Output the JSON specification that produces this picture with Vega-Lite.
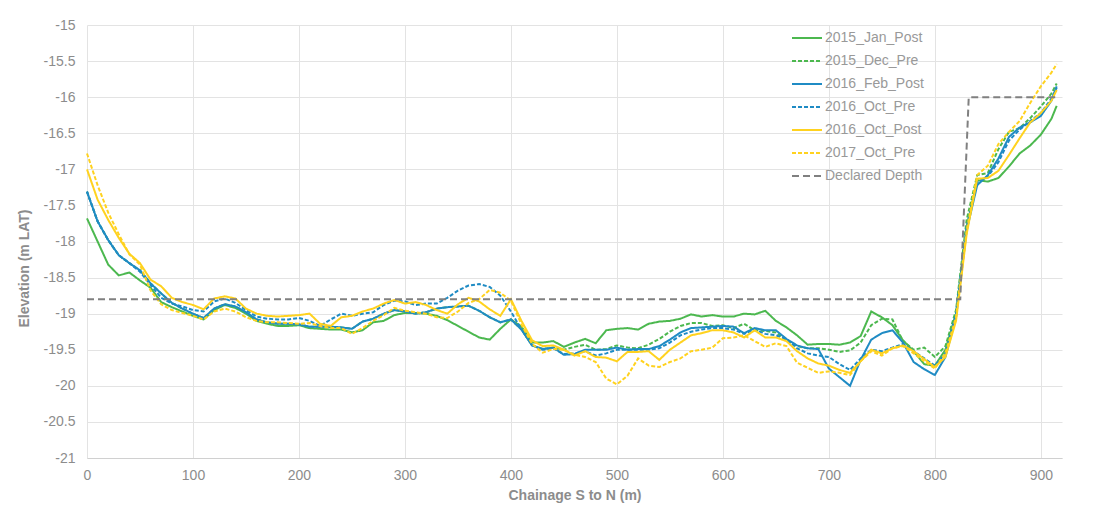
{
  "$schema": "https://vega.github.io/schema/vega-lite/v6.json",
  "width": 975,
  "height": 433,
  "autosize": {"type": "none"},
  "padding": {"left": 87, "top": 25, "right": 42, "bottom": 51},
  "background": "white",
  "config": {
    "view": {"stroke": null},
    "font": "Liberation Sans",
    "axis": {
      "labelFont": "Liberation Sans",
      "labelFontSize": 14,
      "labelColor": "#8c8c8c",
      "titleFont": "Liberation Sans",
      "titleFontSize": 14,
      "titleFontWeight": "bold",
      "titleColor": "#8c8c8c",
      "gridColor": "#e3e3e3",
      "gridWidth": 1,
      "ticks": false,
      "domain": false,
      "labelFlush": false
    },
    "legend": {
      "orient": "none",
      "legendX": 704,
      "legendY": -3,
      "padding": 0,
      "symbolType": "stroke",
      "symbolSize": 900,
      "symbolStrokeWidth": 2,
      "labelFont": "Liberation Sans",
      "labelFontSize": 14,
      "labelColor": "#999999",
      "labelOffset": 2,
      "rowPadding": -9.2
    }
  },
  "encoding": {
    "x": {
      "field": "x",
      "type": "quantitative",
      "scale": {"domain": [0, 920], "nice": false, "zero": false},
      "axis": {
        "values": [0, 100, 200, 300, 400, 500, 600, 700, 800, 900],
        "title": "Chainage S to N (m)",
        "domain": true,
        "domainColor": "#d0d0d0",
        "labelPadding": 10,
        "titlePadding": 6
      }
    },
    "y": {
      "field": "elev",
      "type": "quantitative",
      "scale": {"domain": [-21, -15], "nice": false, "zero": false},
      "axis": {
        "values": [-21, -20.5, -20, -19.5, -19, -18.5, -18, -17.5, -17, -16.5, -16, -15.5, -15],
        "labelExpr": "toString(datum.value)",
        "title": "Elevation (m LAT)",
        "labelPadding": 12,
        "titleX": -56,
        "titleY": 243
      }
    },
    "color": {
      "field": "series",
      "type": "nominal",
      "scale": {
        "domain": ["2015_Jan_Post", "2015_Dec_Pre", "2016_Feb_Post", "2016_Oct_Pre", "2016_Oct_Post", "2017_Oct_Pre", "Declared Depth"],
        "range": ["#4cb84f", "#4cb84f", "#1f8bc4", "#1f8bc4", "#ffd21f", "#ffd21f", "#808080"]
      },
      "legend": {"title": null}
    },
    "strokeDash": {
      "field": "series",
      "type": "nominal",
      "scale": {
        "domain": ["2015_Jan_Post", "2015_Dec_Pre", "2016_Feb_Post", "2016_Oct_Pre", "2016_Oct_Post", "2017_Oct_Pre", "Declared Depth"],
        "range": [[1, 0], [4, 2], [1, 0], [4, 2], [1, 0], [4, 2], [7, 4]]
      },
      "legend": {"title": null}
    }
  },
  "layer": [
    {
      "data": {
        "values": [
          {"x": 0, "2015_Jan_Post": -17.68, "2015_Dec_Pre": -17.31, "2016_Feb_Post": -17.31, "2016_Oct_Pre": -17.31, "2016_Oct_Post": -17.0, "2017_Oct_Pre": -16.78},
          {"x": 10, "2015_Jan_Post": -18.0, "2015_Dec_Pre": -17.72, "2016_Feb_Post": -17.72, "2016_Oct_Pre": -17.72, "2016_Oct_Post": -17.42, "2017_Oct_Pre": -17.22},
          {"x": 20, "2015_Jan_Post": -18.32, "2015_Dec_Pre": -17.98, "2016_Feb_Post": -17.98, "2016_Oct_Pre": -17.98, "2016_Oct_Post": -17.7, "2017_Oct_Pre": -17.6},
          {"x": 30, "2015_Jan_Post": -18.47, "2015_Dec_Pre": -18.19, "2016_Feb_Post": -18.19, "2016_Oct_Pre": -18.19, "2016_Oct_Post": -17.95, "2017_Oct_Pre": -17.9},
          {"x": 40, "2015_Jan_Post": -18.43, "2015_Dec_Pre": -18.3, "2016_Feb_Post": -18.3, "2016_Oct_Pre": -18.3, "2016_Oct_Post": -18.17, "2017_Oct_Pre": -18.18},
          {"x": 50, "2015_Jan_Post": -18.54, "2015_Dec_Pre": -18.4, "2016_Feb_Post": -18.4, "2016_Oct_Pre": -18.42, "2016_Oct_Post": -18.3, "2017_Oct_Pre": -18.32},
          {"x": 60, "2015_Jan_Post": -18.64, "2015_Dec_Pre": -18.58, "2016_Feb_Post": -18.58, "2016_Oct_Pre": -18.6, "2016_Oct_Post": -18.53, "2017_Oct_Pre": -18.68},
          {"x": 70, "2015_Jan_Post": -18.84, "2015_Dec_Pre": -18.72, "2016_Feb_Post": -18.72, "2016_Oct_Pre": -18.78, "2016_Oct_Post": -18.62, "2017_Oct_Pre": -18.87},
          {"x": 80, "2015_Jan_Post": -18.91, "2015_Dec_Pre": -18.85, "2016_Feb_Post": -18.85, "2016_Oct_Pre": -18.86, "2016_Oct_Post": -18.78, "2017_Oct_Pre": -18.95},
          {"x": 90, "2015_Jan_Post": -18.97, "2015_Dec_Pre": -18.93, "2016_Feb_Post": -18.93, "2016_Oct_Pre": -18.9, "2016_Oct_Post": -18.84, "2017_Oct_Pre": -18.99},
          {"x": 100, "2015_Jan_Post": -19.03, "2015_Dec_Pre": -19.0, "2016_Feb_Post": -19.0, "2016_Oct_Pre": -18.95, "2016_Oct_Post": -18.88, "2017_Oct_Pre": -19.03},
          {"x": 110, "2015_Jan_Post": -19.08, "2015_Dec_Pre": -19.06, "2016_Feb_Post": -19.06, "2016_Oct_Pre": -18.97, "2016_Oct_Post": -18.94, "2017_Oct_Pre": -19.08},
          {"x": 120, "2015_Jan_Post": -18.95, "2015_Dec_Pre": -18.93, "2016_Feb_Post": -18.93, "2016_Oct_Pre": -18.83, "2016_Oct_Post": -18.79, "2017_Oct_Pre": -18.97},
          {"x": 130, "2015_Jan_Post": -18.88, "2015_Dec_Pre": -18.87, "2016_Feb_Post": -18.87, "2016_Oct_Pre": -18.79, "2016_Oct_Post": -18.76, "2017_Oct_Pre": -18.93},
          {"x": 140, "2015_Jan_Post": -18.92, "2015_Dec_Pre": -18.9, "2016_Feb_Post": -18.9, "2016_Oct_Pre": -18.85, "2016_Oct_Post": -18.79, "2017_Oct_Pre": -18.97},
          {"x": 150, "2015_Jan_Post": -19.0, "2015_Dec_Pre": -18.98, "2016_Feb_Post": -18.98, "2016_Oct_Pre": -18.95, "2016_Oct_Post": -18.93, "2017_Oct_Pre": -19.05},
          {"x": 160, "2015_Jan_Post": -19.1, "2015_Dec_Pre": -19.08, "2016_Feb_Post": -19.08, "2016_Oct_Pre": -19.04, "2016_Oct_Post": -19.0, "2017_Oct_Pre": -19.1},
          {"x": 170, "2015_Jan_Post": -19.14, "2015_Dec_Pre": -19.12, "2016_Feb_Post": -19.12, "2016_Oct_Pre": -19.07, "2016_Oct_Post": -19.03, "2017_Oct_Pre": -19.12},
          {"x": 180, "2015_Jan_Post": -19.17, "2015_Dec_Pre": -19.14, "2016_Feb_Post": -19.14, "2016_Oct_Pre": -19.08, "2016_Oct_Post": -19.04, "2017_Oct_Pre": -19.12},
          {"x": 190, "2015_Jan_Post": -19.17, "2015_Dec_Pre": -19.14, "2016_Feb_Post": -19.14, "2016_Oct_Pre": -19.08, "2016_Oct_Post": -19.03, "2017_Oct_Pre": -19.13},
          {"x": 200, "2015_Jan_Post": -19.16, "2015_Dec_Pre": -19.15, "2016_Feb_Post": -19.15, "2016_Oct_Pre": -19.06, "2016_Oct_Post": -19.02, "2017_Oct_Pre": -19.14},
          {"x": 210, "2015_Jan_Post": -19.2, "2015_Dec_Pre": -19.18, "2016_Feb_Post": -19.18, "2016_Oct_Pre": -19.1, "2016_Oct_Post": -19.0, "2017_Oct_Pre": -19.13},
          {"x": 220, "2015_Jan_Post": -19.21, "2015_Dec_Pre": -19.18, "2016_Feb_Post": -19.18, "2016_Oct_Pre": -19.17, "2016_Oct_Post": -19.14, "2017_Oct_Pre": -19.17},
          {"x": 230, "2015_Jan_Post": -19.22, "2015_Dec_Pre": -19.18, "2016_Feb_Post": -19.18, "2016_Oct_Pre": -19.08, "2016_Oct_Post": -19.17, "2017_Oct_Pre": -19.2},
          {"x": 240, "2015_Jan_Post": -19.22, "2015_Dec_Pre": -19.19, "2016_Feb_Post": -19.19, "2016_Oct_Pre": -19.0, "2016_Oct_Post": -19.05, "2017_Oct_Pre": -19.2},
          {"x": 250, "2015_Jan_Post": -19.26, "2015_Dec_Pre": -19.21, "2016_Feb_Post": -19.21, "2016_Oct_Pre": -19.03, "2016_Oct_Post": -19.03, "2017_Oct_Pre": -19.28},
          {"x": 260, "2015_Jan_Post": -19.23, "2015_Dec_Pre": -19.11, "2016_Feb_Post": -19.11, "2016_Oct_Pre": -19.0, "2016_Oct_Post": -18.97, "2017_Oct_Pre": -19.2},
          {"x": 270, "2015_Jan_Post": -19.12, "2015_Dec_Pre": -19.07, "2016_Feb_Post": -19.07, "2016_Oct_Pre": -18.98, "2016_Oct_Post": -18.93, "2017_Oct_Pre": -19.1},
          {"x": 280, "2015_Jan_Post": -19.1, "2015_Dec_Pre": -19.0, "2016_Feb_Post": -19.0, "2016_Oct_Pre": -18.88, "2016_Oct_Post": -18.86, "2017_Oct_Pre": -19.02},
          {"x": 290, "2015_Jan_Post": -19.02, "2015_Dec_Pre": -18.95, "2016_Feb_Post": -18.95, "2016_Oct_Pre": -18.82, "2016_Oct_Post": -18.81, "2017_Oct_Pre": -18.92},
          {"x": 300, "2015_Jan_Post": -18.99, "2015_Dec_Pre": -18.97, "2016_Feb_Post": -18.97, "2016_Oct_Pre": -18.83, "2016_Oct_Post": -18.86, "2017_Oct_Pre": -18.96},
          {"x": 310, "2015_Jan_Post": -18.99, "2015_Dec_Pre": -19.0, "2016_Feb_Post": -19.0, "2016_Oct_Pre": -18.88, "2016_Oct_Post": -18.84, "2017_Oct_Pre": -18.98},
          {"x": 320, "2015_Jan_Post": -19.0, "2015_Dec_Pre": -18.98, "2016_Feb_Post": -18.98, "2016_Oct_Pre": -18.86, "2016_Oct_Post": -18.88, "2017_Oct_Pre": -19.0},
          {"x": 330, "2015_Jan_Post": -19.03, "2015_Dec_Pre": -18.93, "2016_Feb_Post": -18.93, "2016_Oct_Pre": -18.86, "2016_Oct_Post": -18.95, "2017_Oct_Pre": -19.05},
          {"x": 340, "2015_Jan_Post": -19.09, "2015_Dec_Pre": -18.91, "2016_Feb_Post": -18.91, "2016_Oct_Pre": -18.78, "2016_Oct_Post": -19.0, "2017_Oct_Pre": -19.06},
          {"x": 350, "2015_Jan_Post": -19.17, "2015_Dec_Pre": -18.9, "2016_Feb_Post": -18.9, "2016_Oct_Pre": -18.68, "2016_Oct_Post": -18.87, "2017_Oct_Pre": -18.97},
          {"x": 360, "2015_Jan_Post": -19.25, "2015_Dec_Pre": -18.89, "2016_Feb_Post": -18.89, "2016_Oct_Pre": -18.61, "2016_Oct_Post": -18.78, "2017_Oct_Pre": -18.85},
          {"x": 370, "2015_Jan_Post": -19.33, "2015_Dec_Pre": -18.96, "2016_Feb_Post": -18.96, "2016_Oct_Pre": -18.59, "2016_Oct_Post": -18.83, "2017_Oct_Pre": -18.8},
          {"x": 380, "2015_Jan_Post": -19.36, "2015_Dec_Pre": -19.05, "2016_Feb_Post": -19.05, "2016_Oct_Pre": -18.63, "2016_Oct_Post": -18.94, "2017_Oct_Pre": -18.67},
          {"x": 390, "2015_Jan_Post": -19.21, "2015_Dec_Pre": -19.12, "2016_Feb_Post": -19.12, "2016_Oct_Pre": -18.75, "2016_Oct_Post": -19.03, "2017_Oct_Pre": -18.71},
          {"x": 400, "2015_Jan_Post": -19.08, "2015_Dec_Pre": -19.08, "2016_Feb_Post": -19.08, "2016_Oct_Pre": -18.97, "2016_Oct_Post": -18.8, "2017_Oct_Pre": -18.82},
          {"x": 410, "2015_Jan_Post": -19.18, "2015_Dec_Pre": -19.22, "2016_Feb_Post": -19.22, "2016_Oct_Pre": -19.22, "2016_Oct_Post": -19.1, "2017_Oct_Pre": -19.15},
          {"x": 420, "2015_Jan_Post": -19.4, "2015_Dec_Pre": -19.44, "2016_Feb_Post": -19.44, "2016_Oct_Pre": -19.44, "2016_Oct_Post": -19.37, "2017_Oct_Pre": -19.42},
          {"x": 430, "2015_Jan_Post": -19.4, "2015_Dec_Pre": -19.49, "2016_Feb_Post": -19.49, "2016_Oct_Pre": -19.5, "2016_Oct_Post": -19.45, "2017_Oct_Pre": -19.54},
          {"x": 440, "2015_Jan_Post": -19.38, "2015_Dec_Pre": -19.47, "2016_Feb_Post": -19.47, "2016_Oct_Pre": -19.48, "2016_Oct_Post": -19.44, "2017_Oct_Pre": -19.49},
          {"x": 450, "2015_Jan_Post": -19.46, "2015_Dec_Pre": -19.5, "2016_Feb_Post": -19.57, "2016_Oct_Pre": -19.56, "2016_Oct_Post": -19.5, "2017_Oct_Pre": -19.5},
          {"x": 460, "2015_Jan_Post": -19.4, "2015_Dec_Pre": -19.46, "2016_Feb_Post": -19.56, "2016_Oct_Pre": -19.55, "2016_Oct_Post": -19.58, "2017_Oct_Pre": -19.57},
          {"x": 470, "2015_Jan_Post": -19.35, "2015_Dec_Pre": -19.43, "2016_Feb_Post": -19.5, "2016_Oct_Pre": -19.52, "2016_Oct_Post": -19.52, "2017_Oct_Pre": -19.6},
          {"x": 480, "2015_Jan_Post": -19.41, "2015_Dec_Pre": -19.5, "2016_Feb_Post": -19.5, "2016_Oct_Pre": -19.58, "2016_Oct_Post": -19.6, "2017_Oct_Pre": -19.67},
          {"x": 490, "2015_Jan_Post": -19.23, "2015_Dec_Pre": -19.49, "2016_Feb_Post": -19.5, "2016_Oct_Pre": -19.55, "2016_Oct_Post": -19.61, "2017_Oct_Pre": -19.9},
          {"x": 500, "2015_Jan_Post": -19.21, "2015_Dec_Pre": -19.44, "2016_Feb_Post": -19.47, "2016_Oct_Pre": -19.5, "2016_Oct_Post": -19.66, "2017_Oct_Pre": -19.98},
          {"x": 510, "2015_Jan_Post": -19.2, "2015_Dec_Pre": -19.47, "2016_Feb_Post": -19.5, "2016_Oct_Pre": -19.5, "2016_Oct_Post": -19.53, "2017_Oct_Pre": -19.86},
          {"x": 520, "2015_Jan_Post": -19.22, "2015_Dec_Pre": -19.48, "2016_Feb_Post": -19.49, "2016_Oct_Pre": -19.5, "2016_Oct_Post": -19.53, "2017_Oct_Pre": -19.62},
          {"x": 530, "2015_Jan_Post": -19.14, "2015_Dec_Pre": -19.43, "2016_Feb_Post": -19.49, "2016_Oct_Pre": -19.5, "2016_Oct_Post": -19.52, "2017_Oct_Pre": -19.72},
          {"x": 540, "2015_Jan_Post": -19.11, "2015_Dec_Pre": -19.35, "2016_Feb_Post": -19.45, "2016_Oct_Pre": -19.48, "2016_Oct_Post": -19.64, "2017_Oct_Pre": -19.74},
          {"x": 550, "2015_Jan_Post": -19.1, "2015_Dec_Pre": -19.25, "2016_Feb_Post": -19.36, "2016_Oct_Pre": -19.4, "2016_Oct_Post": -19.5, "2017_Oct_Pre": -19.67},
          {"x": 560, "2015_Jan_Post": -19.07, "2015_Dec_Pre": -19.17, "2016_Feb_Post": -19.26, "2016_Oct_Pre": -19.3, "2016_Oct_Post": -19.4, "2017_Oct_Pre": -19.62},
          {"x": 570, "2015_Jan_Post": -19.01, "2015_Dec_Pre": -19.13, "2016_Feb_Post": -19.2, "2016_Oct_Pre": -19.25, "2016_Oct_Post": -19.3, "2017_Oct_Pre": -19.52},
          {"x": 580, "2015_Jan_Post": -19.04, "2015_Dec_Pre": -19.13, "2016_Feb_Post": -19.19, "2016_Oct_Pre": -19.22, "2016_Oct_Post": -19.27, "2017_Oct_Pre": -19.5},
          {"x": 590, "2015_Jan_Post": -19.02, "2015_Dec_Pre": -19.17, "2016_Feb_Post": -19.18, "2016_Oct_Pre": -19.2, "2016_Oct_Post": -19.23, "2017_Oct_Pre": -19.47},
          {"x": 600, "2015_Jan_Post": -19.04, "2015_Dec_Pre": -19.16, "2016_Feb_Post": -19.17, "2016_Oct_Pre": -19.2, "2016_Oct_Post": -19.23, "2017_Oct_Pre": -19.34},
          {"x": 610, "2015_Jan_Post": -19.04, "2015_Dec_Pre": -19.2, "2016_Feb_Post": -19.18, "2016_Oct_Pre": -19.22, "2016_Oct_Post": -19.26, "2017_Oct_Pre": -19.33},
          {"x": 620, "2015_Jan_Post": -19.0, "2015_Dec_Pre": -19.14, "2016_Feb_Post": -19.27, "2016_Oct_Pre": -19.28, "2016_Oct_Post": -19.33, "2017_Oct_Pre": -19.3},
          {"x": 630, "2015_Jan_Post": -19.01, "2015_Dec_Pre": -19.23, "2016_Feb_Post": -19.2, "2016_Oct_Pre": -19.22, "2016_Oct_Post": -19.23, "2017_Oct_Pre": -19.38},
          {"x": 640, "2015_Jan_Post": -18.96, "2015_Dec_Pre": -19.24, "2016_Feb_Post": -19.23, "2016_Oct_Pre": -19.28, "2016_Oct_Post": -19.33, "2017_Oct_Pre": -19.46},
          {"x": 650, "2015_Jan_Post": -19.1, "2015_Dec_Pre": -19.26, "2016_Feb_Post": -19.23, "2016_Oct_Pre": -19.3, "2016_Oct_Post": -19.33, "2017_Oct_Pre": -19.41},
          {"x": 660, "2015_Jan_Post": -19.19, "2015_Dec_Pre": -19.37, "2016_Feb_Post": -19.35, "2016_Oct_Pre": -19.35, "2016_Oct_Post": -19.38, "2017_Oct_Pre": -19.45},
          {"x": 670, "2015_Jan_Post": -19.3, "2015_Dec_Pre": -19.45, "2016_Feb_Post": -19.44, "2016_Oct_Pre": -19.48, "2016_Oct_Post": -19.52, "2017_Oct_Pre": -19.68},
          {"x": 680, "2015_Jan_Post": -19.43, "2015_Dec_Pre": -19.48, "2016_Feb_Post": -19.48, "2016_Oct_Pre": -19.55, "2016_Oct_Post": -19.62, "2017_Oct_Pre": -19.75},
          {"x": 690, "2015_Jan_Post": -19.42, "2015_Dec_Pre": -19.48, "2016_Feb_Post": -19.49, "2016_Oct_Pre": -19.58, "2016_Oct_Post": -19.69, "2017_Oct_Pre": -19.82},
          {"x": 700, "2015_Jan_Post": -19.42, "2015_Dec_Pre": -19.5, "2016_Feb_Post": -19.76, "2016_Oct_Pre": -19.6, "2016_Oct_Post": -19.72, "2017_Oct_Pre": -19.8},
          {"x": 710, "2015_Jan_Post": -19.43, "2015_Dec_Pre": -19.53, "2016_Feb_Post": -19.88, "2016_Oct_Pre": -19.7, "2016_Oct_Post": -19.78, "2017_Oct_Pre": -19.82},
          {"x": 720, "2015_Jan_Post": -19.4, "2015_Dec_Pre": -19.51, "2016_Feb_Post": -20.0, "2016_Oct_Pre": -19.78, "2016_Oct_Post": -19.82, "2017_Oct_Pre": -19.85},
          {"x": 730, "2015_Jan_Post": -19.31, "2015_Dec_Pre": -19.4, "2016_Feb_Post": -19.64, "2016_Oct_Pre": -19.62, "2016_Oct_Post": -19.66, "2017_Oct_Pre": -19.66},
          {"x": 740, "2015_Jan_Post": -18.97, "2015_Dec_Pre": -19.16, "2016_Feb_Post": -19.36, "2016_Oct_Pre": -19.5, "2016_Oct_Post": -19.5, "2017_Oct_Pre": -19.52},
          {"x": 750, "2015_Jan_Post": -19.05, "2015_Dec_Pre": -19.07, "2016_Feb_Post": -19.27, "2016_Oct_Pre": -19.52, "2016_Oct_Post": -19.55, "2017_Oct_Pre": -19.58},
          {"x": 760, "2015_Jan_Post": -19.16, "2015_Dec_Pre": -19.08, "2016_Feb_Post": -19.23, "2016_Oct_Pre": -19.47, "2016_Oct_Post": -19.48, "2017_Oct_Pre": -19.48},
          {"x": 770, "2015_Jan_Post": -19.37, "2015_Dec_Pre": -19.38, "2016_Feb_Post": -19.4, "2016_Oct_Pre": -19.42, "2016_Oct_Post": -19.44, "2017_Oct_Pre": -19.45},
          {"x": 780, "2015_Jan_Post": -19.52, "2015_Dec_Pre": -19.5, "2016_Feb_Post": -19.67, "2016_Oct_Pre": -19.52, "2016_Oct_Post": -19.52, "2017_Oct_Pre": -19.55},
          {"x": 790, "2015_Jan_Post": -19.7, "2015_Dec_Pre": -19.47, "2016_Feb_Post": -19.77, "2016_Oct_Pre": -19.62, "2016_Oct_Post": -19.63, "2017_Oct_Pre": -19.66},
          {"x": 800, "2015_Jan_Post": -19.72, "2015_Dec_Pre": -19.6, "2016_Feb_Post": -19.85, "2016_Oct_Pre": -19.72, "2016_Oct_Post": -19.74, "2017_Oct_Pre": -19.76},
          {"x": 810, "2015_Jan_Post": -19.5, "2015_Dec_Pre": -19.45, "2016_Feb_Post": -19.6, "2016_Oct_Pre": -19.55, "2016_Oct_Post": -19.6, "2017_Oct_Pre": -19.55},
          {"x": 820, "2015_Jan_Post": -19.0, "2015_Dec_Pre": -18.95, "2016_Feb_Post": -19.05, "2016_Oct_Pre": -19.0, "2016_Oct_Post": -19.1, "2017_Oct_Pre": -19.05},
          {"x": 830, "2015_Jan_Post": -17.8, "2015_Dec_Pre": -17.7, "2016_Feb_Post": -17.85, "2016_Oct_Pre": -17.8, "2016_Oct_Post": -17.9, "2017_Oct_Pre": -17.85},
          {"x": 840, "2015_Jan_Post": -17.15, "2015_Dec_Pre": -17.08, "2016_Feb_Post": -17.22, "2016_Oct_Pre": -17.18, "2016_Oct_Post": -17.13, "2017_Oct_Pre": -17.08},
          {"x": 850, "2015_Jan_Post": -17.17, "2015_Dec_Pre": -17.05, "2016_Feb_Post": -17.08, "2016_Oct_Pre": -17.1, "2016_Oct_Post": -17.12, "2017_Oct_Pre": -16.95},
          {"x": 860, "2015_Jan_Post": -17.12, "2015_Dec_Pre": -16.72, "2016_Feb_Post": -16.85, "2016_Oct_Pre": -16.9, "2016_Oct_Post": -17.02, "2017_Oct_Pre": -16.65},
          {"x": 870, "2015_Jan_Post": -16.96, "2015_Dec_Pre": -16.48, "2016_Feb_Post": -16.55, "2016_Oct_Pre": -16.6, "2016_Oct_Post": -16.8, "2017_Oct_Pre": -16.48},
          {"x": 880, "2015_Jan_Post": -16.78, "2015_Dec_Pre": -16.43, "2016_Feb_Post": -16.42, "2016_Oct_Pre": -16.45, "2016_Oct_Post": -16.57, "2017_Oct_Pre": -16.33},
          {"x": 890, "2015_Jan_Post": -16.67, "2015_Dec_Pre": -16.29, "2016_Feb_Post": -16.35, "2016_Oct_Pre": -16.33, "2016_Oct_Post": -16.35, "2017_Oct_Pre": -16.08},
          {"x": 900, "2015_Jan_Post": -16.52, "2015_Dec_Pre": -16.13, "2016_Feb_Post": -16.26, "2016_Oct_Pre": -16.22, "2016_Oct_Post": -16.22, "2017_Oct_Pre": -15.85},
          {"x": 910, "2015_Jan_Post": -16.3, "2015_Dec_Pre": -15.95, "2016_Feb_Post": -16.05, "2016_Oct_Pre": -16.02, "2016_Oct_Post": -16.05, "2017_Oct_Pre": -15.66},
          {"x": 915, "2015_Jan_Post": -16.12, "2015_Dec_Pre": -15.81, "2016_Feb_Post": -15.85, "2016_Oct_Pre": -15.87, "2016_Oct_Post": -15.9, "2017_Oct_Pre": -15.54}
        ]
      },
      "transform": [
        {"fold": ["2015_Jan_Post", "2015_Dec_Pre", "2016_Feb_Post", "2016_Oct_Pre", "2016_Oct_Post", "2017_Oct_Pre"], "as": ["series", "elev"]}
      ],
      "mark": {"type": "line", "strokeWidth": 2}
    },
    {
      "data": {
        "values": [
          {"x": 0, "elev": -18.8, "series": "Declared Depth"},
          {"x": 824, "elev": -18.8, "series": "Declared Depth"},
          {"x": 832, "elev": -16.0, "series": "Declared Depth"},
          {"x": 915, "elev": -16.0, "series": "Declared Depth"}
        ]
      },
      "mark": {"type": "line", "strokeWidth": 2}
    }
  ]
}
